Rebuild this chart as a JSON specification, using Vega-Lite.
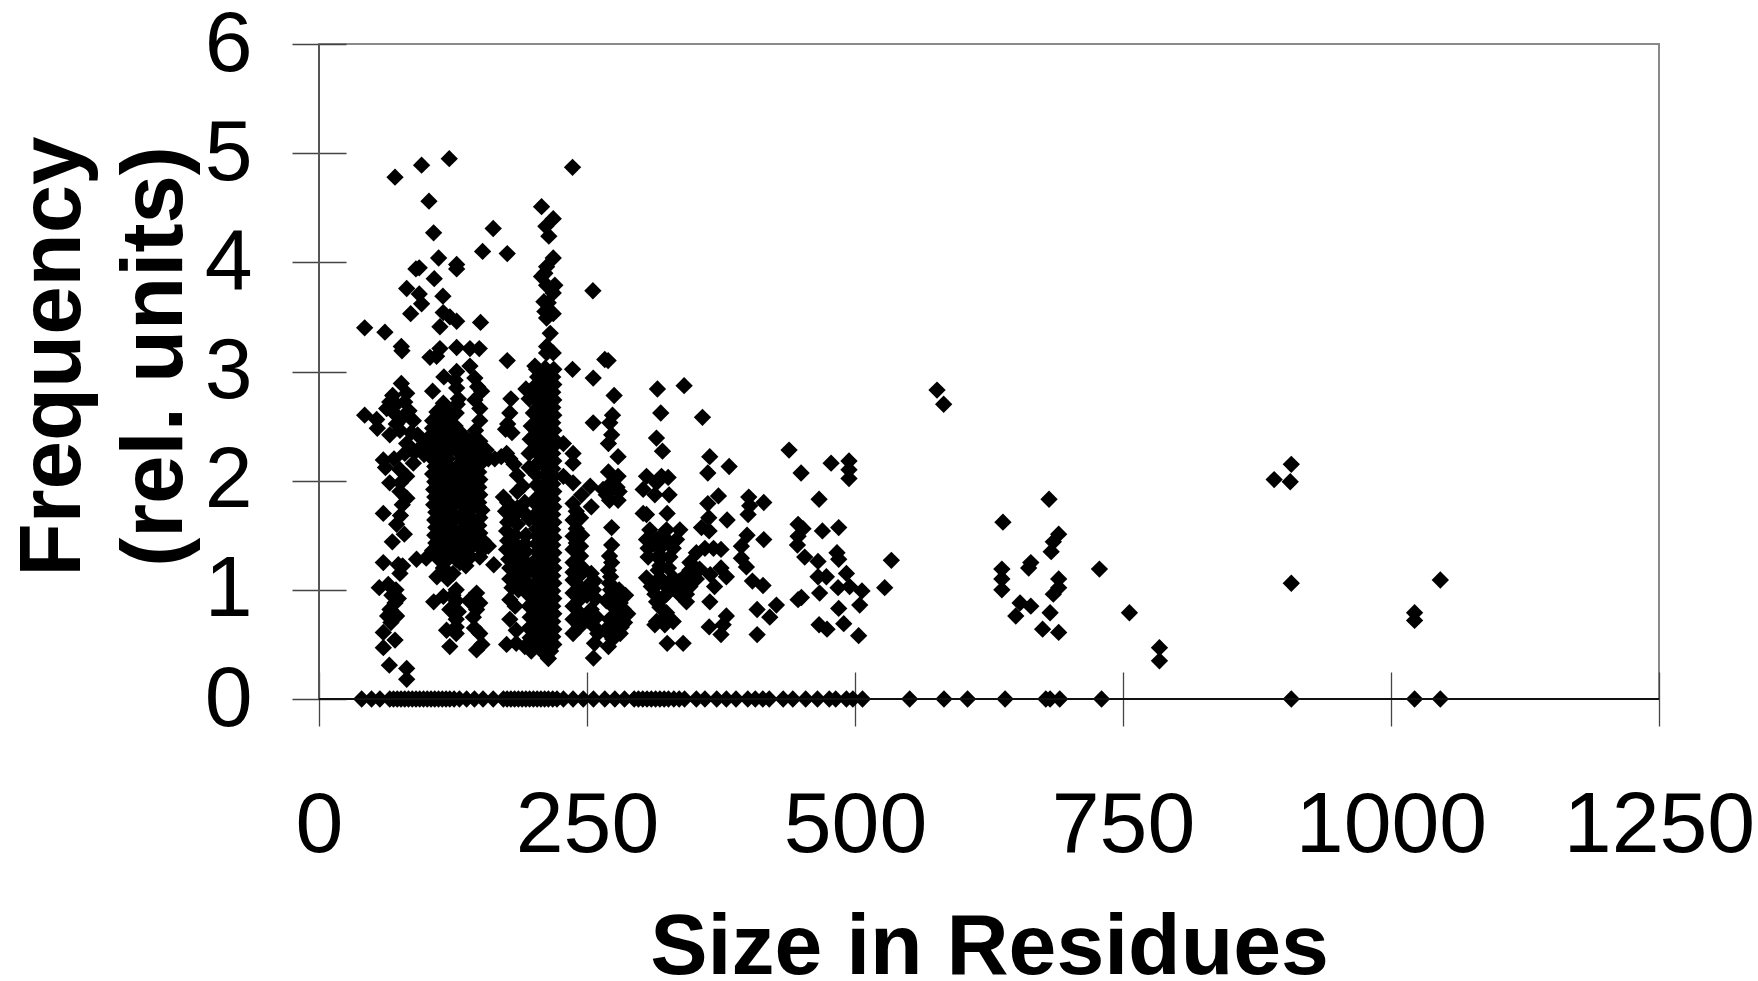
{"$schema":"https://vega.github.io/schema/vega-lite/v6.json","width":1340,"height":655,"autosize":{"type":"none"},"padding":{"left":319,"top":44,"right":99,"bottom":282},"background":"white","config":{"view":{"stroke":"#8a8a8a","strokeWidth":2}},"data":{"values":[
{"s":70.9,"f":4.78},{"s":95.7,"f":4.89},{"s":121.5,"f":4.95},{"s":236.5,"f":4.87},{"s":102.6,"f":4.56},{"s":207.6,"f":4.51},{"s":218.5,"f":4.4},{"s":211.6,"f":4.33},{"s":214.4,"f":4.24},{"s":106.9,"f":4.27},{"s":162.5,"f":4.31},{"s":152.6,"f":4.1},{"s":175.6,"f":4.08},{"s":111.6,"f":4.04},{"s":90.4,"f":3.94},{"s":93.5,"f":3.95},{"s":128.4,"f":3.98},{"s":128.4,"f":3.94},{"s":107.5,"f":3.85},{"s":81.8,"f":3.76},{"s":93.5,"f":3.71},{"s":95.7,"f":3.62},{"s":115.6,"f":3.69},{"s":85.5,"f":3.53},{"s":115.9,"f":3.54},{"s":122.1,"f":3.5},{"s":128.4,"f":3.46},{"s":150.7,"f":3.45},{"s":112.8,"f":3.41},{"s":42.6,"f":3.4},{"s":61.5,"f":3.36},{"s":76.8,"f":3.23},{"s":77.4,"f":3.19},{"s":218.5,"f":4.04},{"s":212.3,"f":3.96},{"s":210.7,"f":3.9},{"s":207.6,"f":3.87},{"s":212.3,"f":3.79},{"s":220,"f":3.79},{"s":218.5,"f":3.72},{"s":209.8,"f":3.64},{"s":213.8,"f":3.63},{"s":210.7,"f":3.55},{"s":218.5,"f":3.53},{"s":212.3,"f":3.49},{"s":255.5,"f":3.74},{"s":215.7,"f":3.35},{"s":212.3,"f":3.23},{"s":218.5,"f":3.17},{"s":212.3,"f":3.17},{"s":112.8,"f":3.21},{"s":109.7,"f":3.14},{"s":103.5,"f":3.13},{"s":128.4,"f":3.22},{"s":140.8,"f":3.21},{"s":149.5,"f":3.21},{"s":175.6,"f":3.1},{"s":201.4,"f":3.05},{"s":236.5,"f":3.02},{"s":266.6,"f":3.11},{"s":269.7,"f":3.1},{"s":255.8,"f":2.94},{"s":275.3,"f":2.78},{"s":273.8,"f":2.6},{"s":255.8,"f":2.53},{"s":271.3,"f":2.53},{"s":140.8,"f":3.05},{"s":128.4,"f":3.0},{"s":116.5,"f":2.95},{"s":145.4,"f":2.94},{"s":76.8,"f":2.89},{"s":81.8,"f":2.8},{"s":68.7,"f":2.78},{"s":106,"f":2.82},{"s":128.4,"f":2.85},{"s":151.7,"f":2.82},{"s":193,"f":2.84},{"s":179,"f":2.75},{"s":145.4,"f":2.74},{"s":63.1,"f":2.66},{"s":42.6,"f":2.6},{"s":53.8,"f":2.56},{"s":148,"f":2.86},{"s":150,"f":2.66},{"s":127,"f":2.92},{"s":178,"f":2.62},{"s":176,"f":2.52},{"s":180,"f":2.44},{"s":174,"f":2.47},{"s":196,"f":2.75},{"s":200,"f":2.62},{"s":198,"f":2.5},{"s":197,"f":2.38},{"s":150,"f":2.55},{"s":146,"f":2.46},
{"s":54.4,"f":2.48},{"s":75.5,"f":2.46},{"s":81.8,"f":2.34},{"s":80,"f":2.25},{"s":70,"f":2.62},{"s":78,"f":2.58},{"s":84,"f":2.64},{"s":88,"f":2.55},{"s":92,"f":2.42},{"s":97,"f":2.33},{"s":89,"f":2.26},{"s":60,"f":2.19},{"s":66,"f":1.98},{"s":75.5,"f":2.1},{"s":81.8,"f":2.04},{"s":75.5,"f":1.9},{"s":77.7,"f":1.78},{"s":60,"f":1.7},{"s":72.4,"f":1.6},{"s":79.6,"f":1.51},{"s":68.4,"f":1.44},{"s":60,"f":1.25},{"s":74,"f":1.23},{"s":75.5,"f":1.15},{"s":56.2,"f":1.02},{"s":64.6,"f":1.05},{"s":71.8,"f":1.0},{"s":70.9,"f":0.88},{"s":66.2,"f":0.82},{"s":72.4,"f":0.76},{"s":67.1,"f":0.7},{"s":60,"f":0.61},{"s":70.9,"f":0.54},{"s":60,"f":0.47},{"s":65.6,"f":0.31},{"s":81.8,"f":0.28},{"s":81.8,"f":0.18},{"s":91,"f":1.28},{"s":100,"f":1.29},{"s":66,"f":2.72},{"s":72,"f":2.7},{"s":80,"f":2.72},{"s":72,"f":2.52},{"s":66,"f":2.42},{"s":86,"f":2.44},{"s":70,"f":2.2},{"s":62,"f":2.12},{"s":88,"f":2.16},{"s":76,"f":1.98},{"s":82,"f":1.84},{"s":76,"f":1.68},{"s":78,"f":1.22},{"s":68,"f":0.95},{"s":74,"f":0.92},{"s":64,"f":0.76},{"s":98,"f":2.24},{"s":102,"f":2.28},
{"s":116,"f":2.71},{"s":110,"f":2.63},{"s":120,"f":2.64},{"s":106,"f":2.55},{"s":114,"f":2.56},{"s":122,"f":2.57},{"s":128,"f":2.62},{"s":130,"f":2.75},{"s":129,"f":2.7},{"s":106,"f":2.48},{"s":113,"f":2.48},{"s":120,"f":2.49},{"s":127,"f":2.5},{"s":104,"f":2.41},{"s":112,"f":2.41},{"s":119,"f":2.42},{"s":127,"f":2.42},{"s":102,"f":2.34},{"s":110,"f":2.34},{"s":118,"f":2.35},{"s":126,"f":2.35},{"s":108,"f":2.27},{"s":115,"f":2.27},{"s":122,"f":2.28},{"s":128,"f":2.28},{"s":106,"f":2.2},{"s":113,"f":2.2},{"s":120,"f":2.2},{"s":128,"f":2.12},{"s":108,"f":2.13},{"s":115,"f":2.13},{"s":121,"f":2.13},{"s":106,"f":2.06},{"s":113,"f":2.06},{"s":120,"f":2.06},{"s":128,"f":2.02},{"s":108,"f":1.99},{"s":115,"f":1.99},{"s":122,"f":1.99},{"s":107,"f":1.92},{"s":114,"f":1.92},{"s":121,"f":1.92},{"s":128,"f":1.93},{"s":108,"f":1.85},{"s":115,"f":1.85},{"s":122,"f":1.85},{"s":107,"f":1.78},{"s":114,"f":1.78},{"s":121,"f":1.78},{"s":128,"f":1.8},{"s":109,"f":1.71},{"s":116,"f":1.71},{"s":123,"f":1.71},{"s":108,"f":1.64},{"s":115,"f":1.64},{"s":122,"f":1.64},{"s":128,"f":1.66},{"s":109,"f":1.57},{"s":116,"f":1.57},{"s":123,"f":1.57},{"s":108,"f":1.5},{"s":115,"f":1.5},{"s":122,"f":1.5},{"s":128,"f":1.52},{"s":109,"f":1.43},{"s":116,"f":1.43},{"s":123,"f":1.43},{"s":130,"f":1.45},{"s":106,"f":1.36},{"s":114,"f":1.36},{"s":122,"f":1.36},{"s":130,"f":1.36},{"s":112,"f":1.28},{"s":120,"f":1.28},{"s":128,"f":1.28},{"s":131.5,"f":1.25},{"s":125,"f":1.15},{"s":116,"f":1.2},{"s":110,"f":1.12},{"s":120,"f":1.1},{"s":128,"f":1.0},{"s":116,"f":0.94},{"s":107,"f":0.89},{"s":122,"f":0.82},{"s":128,"f":0.9},{"s":128,"f":0.73},{"s":128,"f":0.66},{"s":128,"f":0.6},{"s":119,"f":0.63},{"s":122,"f":0.48},{"s":130,"f":0.8},{"s":125,"f":0.95},{"s":134,"f":2.42},{"s":134,"f":2.34},{"s":134,"f":2.2},{"s":134,"f":2.13},{"s":134,"f":2.06},{"s":134,"f":1.99},{"s":134,"f":1.92},{"s":135,"f":1.85},{"s":134,"f":1.78},{"s":135,"f":1.71},{"s":134,"f":1.64},{"s":135,"f":1.57},{"s":134,"f":1.5},{"s":135,"f":1.43},{"s":137,"f":1.33},
{"s":141,"f":2.36},{"s":150,"f":2.36},{"s":141,"f":2.29},{"s":150,"f":2.29},{"s":136,"f":2.25},{"s":145,"f":2.22},{"s":153,"f":2.2},{"s":141,"f":2.15},{"s":150,"f":2.15},{"s":141,"f":2.08},{"s":149,"f":2.08},{"s":141,"f":2.01},{"s":150,"f":2.01},{"s":141,"f":1.94},{"s":149,"f":1.94},{"s":141,"f":1.87},{"s":150,"f":1.87},{"s":141,"f":1.8},{"s":149,"f":1.8},{"s":141,"f":1.73},{"s":152,"f":1.73},{"s":141,"f":1.66},{"s":150,"f":1.66},{"s":141,"f":1.59},{"s":149,"f":1.59},{"s":141,"f":1.52},{"s":150,"f":1.52},{"s":141,"f":1.45},{"s":153,"f":1.45},{"s":141,"f":1.38},{"s":153,"f":1.37},{"s":147,"f":1.42},{"s":158,"f":1.4},{"s":141,"f":1.3},{"s":150,"f":1.3},{"s":163,"f":1.23},{"s":137,"f":1.22},{"s":147,"f":0.97},{"s":147,"f":0.82},{"s":145,"f":0.65},{"s":147,"f":0.45},{"s":140,"f":0.9},{"s":150,"f":0.6},{"s":152,"f":0.5},{"s":144,"f":0.75},{"s":150,"f":0.88},{"s":156,"f":2.28},{"s":164,"f":2.2},{"s":175,"f":2.25},{"s":182,"f":2.15},{"s":185,"f":2.05},{"s":170,"f":2.22},{"s":158,"f":2.2},{"s":178,"f":2.2},
{"s":176,"f":1.8},{"s":185,"f":1.75},{"s":174,"f":1.72},{"s":182,"f":1.68},{"s":176,"f":1.62},{"s":185,"f":1.6},{"s":175,"f":1.54},{"s":183,"f":1.5},{"s":176,"f":1.45},{"s":185,"f":1.4},{"s":175,"f":1.37},{"s":182,"f":1.32},{"s":177,"f":1.28},{"s":185,"f":1.22},{"s":178,"f":1.2},{"s":184,"f":1.12},{"s":178,"f":1.1},{"s":180,"f":1.02},{"s":186,"f":1.0},{"s":178,"f":0.91},{"s":183,"f":0.85},{"s":178,"f":0.73},{"s":184,"f":0.63},{"s":175,"f":0.5},{"s":184,"f":0.51},{"s":192,"f":0.48},{"s":198,"f":0.44},{"s":192,"f":1.8},{"s":196,"f":1.65},{"s":190,"f":1.72},{"s":193,"f":1.5},{"s":193,"f":1.35},{"s":196,"f":1.2},{"s":196,"f":1.05},{"s":190,"f":1.95},{"s":185,"f":1.9},{"s":192,"f":1.42},{"s":190,"f":1.28},{"s":190,"f":1.12},{"s":196,"f":0.95},{"s":196,"f":0.85},{"s":197,"f":0.75},{"s":196,"f":0.65},{"s":197,"f":0.56},{"s":183,"f":1.05},{"s":196,"f":2.25},{"s":196,"f":2.12},{"s":172,"f":1.85},
{"s":203,"f":3.02},{"s":211,"f":3.03},{"s":219,"f":3.02},{"s":204,"f":2.95},{"s":212,"f":2.96},{"s":218,"f":2.95},{"s":203,"f":2.88},{"s":211,"f":2.89},{"s":219,"f":2.88},{"s":204,"f":2.81},{"s":212,"f":2.82},{"s":218,"f":2.81},{"s":203,"f":2.74},{"s":211,"f":2.75},{"s":219,"f":2.74},{"s":204,"f":2.67},{"s":212,"f":2.68},{"s":218,"f":2.67},{"s":203,"f":2.6},{"s":211,"f":2.61},{"s":219,"f":2.6},{"s":204,"f":2.53},{"s":212,"f":2.54},{"s":218,"f":2.53},{"s":203,"f":2.46},{"s":211,"f":2.47},{"s":219,"f":2.46},{"s":204,"f":2.39},{"s":212,"f":2.4},{"s":218,"f":2.39},{"s":203,"f":2.32},{"s":211,"f":2.33},{"s":219,"f":2.32},{"s":204,"f":2.25},{"s":212,"f":2.26},{"s":218,"f":2.25},{"s":211,"f":2.19},{"s":219,"f":2.18},{"s":203,"f":2.15},{"s":212,"f":2.12},{"s":218,"f":2.11},{"s":203,"f":2.05},{"s":211,"f":2.05},{"s":219,"f":2.04},{"s":212,"f":1.98},{"s":218,"f":1.97},{"s":203,"f":1.96},{"s":211,"f":1.91},{"s":219,"f":1.9},{"s":203,"f":1.84},{"s":212,"f":1.84},{"s":218,"f":1.83},{"s":204,"f":1.77},{"s":211,"f":1.77},{"s":219,"f":1.76},{"s":203,"f":1.7},{"s":212,"f":1.7},{"s":218,"f":1.69},{"s":204,"f":1.63},{"s":211,"f":1.63},{"s":219,"f":1.62},{"s":203,"f":1.56},{"s":212,"f":1.56},{"s":218,"f":1.55},{"s":204,"f":1.49},{"s":211,"f":1.49},{"s":219,"f":1.48},{"s":203,"f":1.42},{"s":212,"f":1.42},{"s":218,"f":1.41},{"s":204,"f":1.35},{"s":211,"f":1.35},{"s":219,"f":1.34},{"s":203,"f":1.28},{"s":212,"f":1.28},{"s":218,"f":1.27},{"s":204,"f":1.21},{"s":211,"f":1.21},{"s":219,"f":1.2},{"s":203,"f":1.14},{"s":212,"f":1.14},{"s":218,"f":1.13},{"s":204,"f":1.07},{"s":211,"f":1.07},{"s":219,"f":1.06},{"s":203,"f":1.0},{"s":212,"f":1.0},{"s":218,"f":0.99},{"s":204,"f":0.93},{"s":211,"f":0.93},{"s":219,"f":0.92},{"s":203,"f":0.86},{"s":212,"f":0.86},{"s":218,"f":0.85},{"s":204,"f":0.79},{"s":211,"f":0.79},{"s":219,"f":0.78},{"s":203,"f":0.72},{"s":212,"f":0.72},{"s":218,"f":0.71},{"s":204,"f":0.65},{"s":211,"f":0.65},{"s":219,"f":0.64},{"s":203,"f":0.58},{"s":212,"f":0.58},{"s":218,"f":0.57},{"s":205,"f":0.51},{"s":211,"f":0.51},{"s":219,"f":0.5},{"s":208,"f":0.44},{"s":216,"f":0.44},{"s":214,"f":0.37},
{"s":228,"f":2.34},{"s":237,"f":2.25},{"s":237,"f":2.16},{"s":237,"f":1.98},{"s":228,"f":2.04},{"s":245,"f":1.87},{"s":253,"f":1.95},{"s":254,"f":1.76},{"s":237,"f":1.79},{"s":240,"f":1.72},{"s":237,"f":1.64},{"s":240,"f":1.56},{"s":237,"f":1.49},{"s":240,"f":1.43},{"s":237,"f":1.37},{"s":244,"f":1.31},{"s":237,"f":1.25},{"s":246,"f":1.2},{"s":237,"f":1.16},{"s":237,"f":1.09},{"s":243,"f":1.03},{"s":237,"f":0.97},{"s":243,"f":0.91},{"s":237,"f":0.85},{"s":243,"f":0.79},{"s":237,"f":0.73},{"s":243,"f":0.66},{"s":237,"f":0.6},{"s":254,"f":1.15},{"s":256,"f":1.0},{"s":254,"f":0.82},{"s":256,"f":0.67},{"s":257,"f":0.51},{"s":256,"f":0.375},{"s":258,"f":0.92},{"s":251,"f":0.72},{"s":260,"f":0.6},{"s":244,"f":1.66},{"s":245,"f":1.5},{"s":244,"f":1.4},{"s":244,"f":1.14},{"s":252,"f":1.05},{"s":250,"f":0.95},{"s":259,"f":0.75},{"s":257,"f":1.08},
{"s":273,"f":1.57},{"s":273,"f":1.41},{"s":271,"f":1.31},{"s":270,"f":1.18},{"s":271,"f":1.06},{"s":281,"f":0.88},{"s":281,"f":0.76},{"s":281,"f":0.6},{"s":270,"f":0.48},{"s":273,"f":0.94},{"s":271,"f":0.73},{"s":267,"f":0.63},{"s":276,"f":1.0},{"s":278,"f":0.82},{"s":274,"f":0.85},{"s":276,"f":0.68},{"s":273,"f":2.42},{"s":270,"f":2.34},{"s":279,"f":2.22},{"s":270,"f":2.08},{"s":279,"f":2.04},{"s":268,"f":1.87},{"s":279,"f":1.82},{"s":271,"f":1.82},{"s":273,"f":1.98},{"s":273,"f":1.25},{"s":272,"f":1.12},{"s":280,"f":1.0},{"s":286,"f":0.95},{"s":284,"f":0.82},{"s":285,"f":0.7},{"s":272,"f":1.0},{"s":268,"f":0.9},{"s":274,"f":0.55},{"s":282,"f":0.66},{"s":288,"f":0.78},{"s":278,"f":1.94},{"s":272,"f":1.93},{"s":280,"f":1.9},{"s":265,"f":1.92},
{"s":315.7,"f":2.84},{"s":340.6,"f":2.87},{"s":318.8,"f":2.62},{"s":357.7,"f":2.58},{"s":314.8,"f":2.39},{"s":320.4,"f":2.27},{"s":364.5,"f":2.22},{"s":382.6,"f":2.13},{"s":362.7,"f":2.07},{"s":438.5,"f":2.28},{"s":449.7,"f":2.07},{"s":477.7,"f":2.16},{"s":494.4,"f":2.18},{"s":494.4,"f":2.1},{"s":494.4,"f":2.02},{"s":466.5,"f":1.83},{"s":305.5,"f":2.04},{"s":319.5,"f":2.04},{"s":325.7,"f":2.03},{"s":302.4,"f":1.92},{"s":314.8,"f":1.98},{"s":313.3,"f":1.87},{"s":326.6,"f":1.87},{"s":302.4,"f":1.7},{"s":305.5,"f":1.69},{"s":324.8,"f":1.7},{"s":372.6,"f":1.86},{"s":362.7,"f":1.79},{"s":363.6,"f":1.66},{"s":380.7,"f":1.64},{"s":356.8,"f":1.57},{"s":363.9,"f":1.54},{"s":400.9,"f":1.85},{"s":414.9,"f":1.8},{"s":401.8,"f":1.77},{"s":400.3,"f":1.69},{"s":446.9,"f":1.6},{"s":451.5,"f":1.56},{"s":469.6,"f":1.54},{"s":484.8,"f":1.57},{"s":446.9,"f":1.49},{"s":446.3,"f":1.41},{"s":399.3,"f":1.5},{"s":414.9,"f":1.46},{"s":394,"f":1.4},{"s":394,"f":1.29},{"s":398.7,"f":1.21},{"s":404.3,"f":1.08},{"s":414.2,"f":1.04},{"s":408.7,"f":0.82},{"s":426.7,"f":0.86},{"s":420.5,"f":0.75},{"s":408.7,"f":0.59},{"s":453.1,"f":1.3},{"s":465.5,"f":1.26},{"s":483.2,"f":1.34},{"s":484.8,"f":1.28},{"s":492,"f":1.15},{"s":473.3,"f":1.12},{"s":465.5,"f":1.12},{"s":467,"f":0.97},{"s":484.2,"f":1.02},{"s":495,"f":1.03},{"s":506.5,"f":0.99},{"s":504.4,"f":0.86},{"s":484.8,"f":0.83},{"s":446.9,"f":0.91},{"s":450,"f":0.93},{"s":466.5,"f":0.68},{"s":473.9,"f":0.64},{"s":489.5,"f":0.69},{"s":503.4,"f":0.58},{"s":533.9,"f":1.27},{"s":527.7,"f":1.02},{"s":576.5,"f":2.83},{"s":582.7,"f":2.7},
{"s":308.6,"f":1.55},{"s":324.2,"f":1.55},{"s":336.6,"f":1.55},{"s":305.5,"f":1.46},{"s":314.9,"f":1.46},{"s":324.2,"f":1.46},{"s":333.5,"f":1.46},{"s":307,"f":1.38},{"s":318,"f":1.38},{"s":330.4,"f":1.38},{"s":307,"f":1.3},{"s":319.5,"f":1.3},{"s":327.3,"f":1.3},{"s":316.4,"f":1.18},{"s":346,"f":1.18},{"s":305.5,"f":1.11},{"s":318,"f":1.11},{"s":330.4,"f":1.11},{"s":339.7,"f":1.11},{"s":313.3,"f":1.03},{"s":324.2,"f":1.03},{"s":336.6,"f":1.03},{"s":346,"f":1.03},{"s":313.3,"f":0.96},{"s":324.2,"f":0.96},{"s":342.8,"f":0.96},{"s":314.9,"f":0.89},{"s":342.8,"f":0.89},{"s":324.2,"f":0.79},{"s":314.9,"f":0.71},{"s":330.4,"f":0.71},{"s":313.3,"f":0.68},{"s":322.6,"f":0.68},{"s":324.8,"f":0.51},{"s":339.7,"f":0.51},{"s":318,"f":1.22},{"s":326,"f":1.2},{"s":336,"f":1.08},{"s":352,"f":1.1},{"s":312,"f":1.42},{"s":320,"f":1.5},{"s":316,"f":1.3},{"s":322,"f":1.06},{"s":310,"f":1.03},{"s":330,"f":1.03},{"s":320,"f":0.92},{"s":336,"f":0.96},{"s":322,"f":0.74},{"s":318,"f":0.84},
{"s":352,"f":1.34},{"s":360,"f":1.38},{"s":368,"f":1.38},{"s":375,"f":1.37},{"s":346,"f":1.25},{"s":355,"f":1.19},{"s":365,"f":1.14},{"s":375,"f":1.2},{"s":380,"f":1.12},{"s":369,"f":1.03},{"s":364.6,"f":0.89},{"s":364,"f":0.66},{"s":380,"f":0.76},{"s":377,"f":0.68},{"s":375,"f":0.59},
{"s":638,"f":1.62},{"s":681,"f":1.83},{"s":637,"f":1.19},{"s":637,"f":1.1},{"s":637,"f":1.0},{"s":664,"f":1.25},{"s":662,"f":1.2},{"s":654,"f":0.88},{"s":664,"f":0.85},{"s":650,"f":0.76},{"s":690,"f":1.51},{"s":685,"f":1.44},{"s":683,"f":1.35},{"s":690,"f":1.1},{"s":690,"f":1.02},{"s":685,"f":0.96},{"s":682,"f":0.79},{"s":675,"f":0.64},{"s":690,"f":0.61},{"s":728,"f":1.19},{"s":756,"f":0.79},{"s":784,"f":0.47},{"s":784,"f":0.35},{"s":891,"f":2.01},{"s":907,"f":2.15},{"s":906,"f":1.99},{"s":907,"f":1.06},{"s":1022,"f":0.79},{"s":1022,"f":0.72},{"s":1046,"f":1.09},
{"s":39.8,"f":0},{"s":49,"f":0},{"s":56.8,"f":0},{"s":66,"f":0},{"s":69.5,"f":0},{"s":73,"f":0},{"s":76.5,"f":0},{"s":80,"f":0},{"s":83.5,"f":0},{"s":87,"f":0},{"s":90.5,"f":0},{"s":94,"f":0},{"s":97.5,"f":0},{"s":101,"f":0},{"s":104.5,"f":0},{"s":108,"f":0},{"s":111.5,"f":0},{"s":115,"f":0},{"s":118.5,"f":0},{"s":122,"f":0},{"s":126,"f":0},{"s":131,"f":0},{"s":137.7,"f":0},{"s":145,"f":0},{"s":153,"f":0},{"s":162.5,"f":0},{"s":172,"f":0},{"s":175.5,"f":0},{"s":179,"f":0},{"s":182.5,"f":0},{"s":186,"f":0},{"s":189.5,"f":0},{"s":193,"f":0},{"s":196.5,"f":0},{"s":200,"f":0},{"s":203.5,"f":0},{"s":207,"f":0},{"s":210.5,"f":0},{"s":214,"f":0},{"s":218,"f":0},{"s":222,"f":0},{"s":228,"f":0},{"s":237,"f":0},{"s":246.5,"f":0},{"s":256,"f":0},{"s":266.6,"f":0},{"s":276,"f":0},{"s":285,"f":0},{"s":294,"f":0},{"s":298,"f":0},{"s":302,"f":0},{"s":306,"f":0},{"s":310,"f":0},{"s":314,"f":0},{"s":318,"f":0},{"s":322,"f":0},{"s":326,"f":0},{"s":331,"f":0},{"s":336,"f":0},{"s":341,"f":0},{"s":352,"f":0},{"s":360,"f":0},{"s":371,"f":0},{"s":380,"f":0},{"s":389,"f":0},{"s":400,"f":0},{"s":407,"f":0},{"s":414,"f":0},{"s":420,"f":0},{"s":433,"f":0},{"s":442,"f":0},{"s":454,"f":0},{"s":465,"f":0},{"s":476,"f":0},{"s":482,"f":0},{"s":492,"f":0},{"s":498,"f":0},{"s":507,"f":0},{"s":551,"f":0},{"s":583,"f":0},{"s":605,"f":0},{"s":640,"f":0},{"s":678,"f":0},{"s":682,"f":0},{"s":691,"f":0},{"s":730,"f":0},{"s":907,"f":0},{"s":1022,"f":0},{"s":1046,"f":0}
]},
"layer":[
{"mark":{"type":"point","shape":"diamond","filled":true,"color":"#000000","opacity":1,"size":300,"clip":false},
"encoding":{"x":{"field":"s","type":"quantitative","scale":{"domain":[0,1250],"nice":false},"axis":{"title":"Size in Residues","values":[0,250,500,750,1000,1250],"format":"d","grid":false,"domain":false,"offset":-27,"tickSize":54,"tickColor":"#444444","tickWidth":1.3,"labelFont":"Liberation Sans","labelFontSize":86,"labelColor":"#000000","labelPadding":57,"labelOverlap":false,"labelFlush":false,"labelLimit":600,"titleFont":"Liberation Sans","titleFontSize":86,"titleFontWeight":"bold","titleColor":"#000000","titleBaseline":"alphabetic","titleLimit":1200,"titleX":670,"titleY":301}},
"y":{"field":"f","type":"quantitative","scale":{"domain":[0,6],"nice":false},"axis":{"title":["Frequency","(rel. units)"],"values":[0,1,2,3,4,5,6],"format":"d","grid":false,"domain":false,"offset":-27,"tickSize":54,"tickColor":"#444444","tickWidth":1.3,"labelFont":"Liberation Sans","labelFontSize":86,"labelColor":"#000000","labelPadding":40,"labelOverlap":false,"labelBaseline":"middle","labelLimit":600,"titleFont":"Liberation Sans","titleFontSize":87,"titleFontWeight":"bold","titleColor":"#000000","titleAngle":-90,"titleBaseline":"alphabetic","titleAlign":"center","titleLineHeight":102,"titleLimit":1200,"titleX":-267,"titleY":312}}}},
{"data":{"values":[{"s":0}]},"mark":{"type":"rule","color":"#555555","strokeWidth":2},"encoding":{"x":{"field":"s","type":"quantitative"}}},
{"data":{"values":[{"f":0}]},"mark":{"type":"rule","color":"#111111","strokeWidth":2},"encoding":{"y":{"field":"f","type":"quantitative"}}}
]}
